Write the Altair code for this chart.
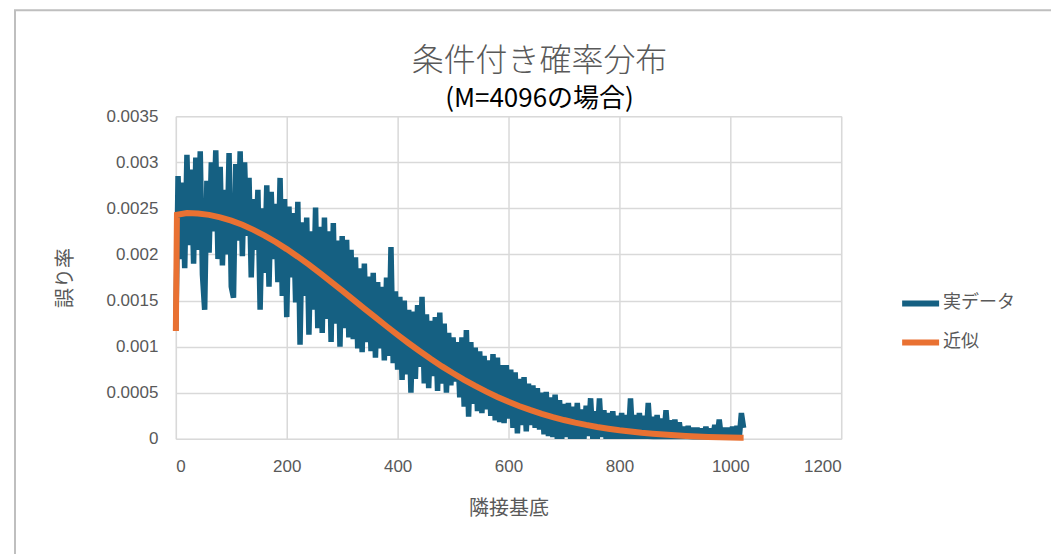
import altair as alt
import pandas as pd

# ---- data ----
series_names = ["実データ", "近似"]
series_colors = ["#156082", "#E97132"]

x_ticks = [0, 200, 400, 600, 800, 1000, 1200]
y_ticks = [0, 0.0005, 0.001, 0.0015, 0.002, 0.0025, 0.003, 0.0035]

# measured data (x = 0, 4, 8, ... 1024), values in units of 1e-4
blue_x = list(range(0, 1025, 4))
blue_vals = [
    11.7, 28.5, 19.5, 27.8, 18.5, 30.8, 21.0, 29.2, 19.0, 30.5,
    20.5, 31.2, 17.8, 14.0, 28.0, 20.2, 30.0, 22.5, 31.3, 19.5,
    29.5, 18.8, 27.0, 20.0, 31.0, 16.5, 15.3, 29.8, 21.5, 31.2,
    19.8, 30.0, 22.0, 28.3, 17.5, 26.0, 20.5, 27.0, 14.0, 25.0,
    18.0, 27.5, 16.5, 26.8, 19.5, 25.5, 17.0, 28.3, 15.5, 26.0,
    13.2, 25.2, 17.5, 24.5, 14.8, 25.7, 10.2, 23.5, 15.5, 24.0,
    11.3, 22.5, 14.0, 25.1, 12.0, 23.0, 11.5, 24.0, 13.0, 22.5,
    10.5, 23.4, 12.5, 21.5, 10.0, 22.0, 12.0, 21.6, 11.0, 20.5,
    10.8, 19.7, 9.8, 18.5, 9.4, 19.0, 10.5, 17.6, 9.5, 18.0,
    8.8, 17.0, 9.8, 16.5, 8.5, 17.5, 9.0, 20.8, 8.2, 16.0,
    7.5, 15.4, 6.4, 15.0, 7.0, 14.0, 5.0, 13.8, 6.5, 14.5,
    7.8, 15.4, 6.0, 13.5, 5.5, 12.8, 6.8, 13.2, 5.2, 13.7,
    6.0, 12.5, 5.0, 11.5, 5.8, 11.0, 6.2, 10.5, 4.5, 11.0,
    3.5, 11.8, 2.4, 10.5, 3.8, 9.9, 3.0, 9.5, 2.8, 9.0,
    3.2, 8.5, 2.5, 9.2, 2.0, 8.8, 1.8, 8.0, 1.7, 8.0,
    2.2, 7.5, 1.2, 7.2, 0.6, 6.5, 1.5, 6.7, 0.8, 6.0,
    1.5, 5.8, 1.2, 5.5, 1.0, 5.0, 0.5, 5.1, 0.3, 4.5,
    0.2, 4.8, 0.0, 4.2, 0.0, 3.8, 0.2, 3.9, 0.0, 3.5,
    0.0, 3.9, 0.0, 3.2, 0.0, 3.6, 0.3, 4.4, 0.0, 3.0,
    0.0, 4.4, 0.2, 3.1, 0.0, 2.8, 0.0, 3.0, 0.0, 2.5,
    0.0, 2.8, 0.0, 2.6, 0.0, 4.4, 0.0, 2.6, 0.0, 2.8,
    0.0, 2.5, 0.0, 3.9, 0.0, 2.4, 0.0, 2.6, 0.0, 2.2,
    0.0, 3.1, 0.0, 2.0, 0.0, 2.1, 0.0, 1.8, 0.0, 1.3,
    0.0, 1.4, 0.0, 1.2, 0.0, 1.2, 0.0, 1.1, 0.0, 1.3,
    0.0, 1.1, 0.0, 1.5, 0.0, 2.1, 0.0, 1.2, 0.0, 1.2,
    0.0, 1.3, 0.0, 1.4, 0.0, 2.8, 1.2,
]
blue_y = [v * 1e-4 for v in blue_vals]

# fitted curve
orange_x = [0, 2, 20, 40, 60, 80, 100, 120, 140, 160, 180, 200, 220, 240, 260,
            280, 300, 320, 340, 360, 380, 400, 420, 440, 460, 480, 500, 520,
            540, 560, 580, 600, 620, 640, 660, 680, 700, 720, 740, 760, 780,
            800, 820, 840, 860, 880, 900, 920, 940, 960, 980, 1000, 1020, 1024]
orange_y = [0.00117, 0.00243, 0.00245, 0.002445, 0.002429, 0.002403, 0.002367,
            0.002322, 0.002267, 0.002205, 0.002135, 0.002058, 0.001976,
            0.001889, 0.001797, 0.001703, 0.001608, 0.001510, 0.001413,
            0.001317, 0.001221, 0.001128, 0.001037, 0.000950, 0.000866,
            0.000786, 0.000711, 0.000640, 0.000574, 0.000512, 0.000455,
            0.000402, 0.000354, 0.000311, 0.000271, 0.000236, 0.000204,
            0.000176, 0.000151, 0.000129, 0.000110, 0.000093, 0.000079,
            0.000066, 0.000056, 0.000046, 0.000038, 0.000032, 0.000026,
            0.000021, 0.000017, 0.000014, 0.000011, 0.000011]

blue_df = pd.DataFrame({"x": blue_x, "y": blue_y, "系列": series_names[0]})
orange_df = pd.DataFrame({"x": orange_x, "y": orange_y, "系列": series_names[1]})

JP = "Noto Sans CJK JP"
GRAY = "#595959"

color = alt.Color(
    "系列:N",
    scale=alt.Scale(domain=series_names, range=series_colors),
    legend=alt.Legend(
        title=None, orient="none", legendX=724, legendY=166,
        symbolType="stroke", symbolSize=1369, symbolStrokeWidth=6,
        labelFont=JP, labelFontSize=18, labelColor=GRAY, labelOffset=1,
        rowPadding=5,
    ),
)

x_enc = alt.X(
    "x:Q",
    scale=alt.Scale(domain=[0, 1200], nice=False),
    axis=alt.Axis(values=x_ticks, format="d", title="隣接基底",
                  titleFont=JP, titleFontSize=20, titleColor=GRAY,
                  titleFontWeight="normal", titlePadding=24,
                  labelFont="Liberation Sans", labelFontSize=17,
                  labelColor=GRAY, labelPadding=20, domain=False, ticks=False,
                  grid=True, gridColor="#d9d9d9", gridWidth=1.5),
)
y_enc = alt.Y(
    "y:Q",
    scale=alt.Scale(domain=[0, 0.0035], nice=False),
    axis=alt.Axis(values=y_ticks, format="~g", title="誤り率",
                  titleFont=JP, titleFontSize=20, titleColor=GRAY,
                  titleFontWeight="normal", titlePadding=30,
                  labelFont="Liberation Sans", labelFontSize=17,
                  labelColor=GRAY, labelPadding=18, domain=False, ticks=False,
                  grid=True, gridColor="#d9d9d9", gridWidth=1.5),
)

blue = alt.Chart(blue_df).mark_line(strokeWidth=5.5, strokeJoin="bevel").encode(
    x=x_enc, y=y_enc, color=color)
orange = alt.Chart(orange_df).mark_line(strokeWidth=6).encode(
    x="x:Q", y="y:Q", color=alt.Color("系列:N"))

frame = alt.Chart(pd.DataFrame({"f": [0]})).mark_rect(
    filled=False, stroke="#bfbfbf", strokeWidth=2).encode(
    x=alt.value(-161), x2=alt.value(1000), y=alt.value(-106), y2=alt.value(600))

chart = alt.layer(frame, blue, orange).properties(
    width=666, height=323,
    title=alt.Title(
        text="条件付き確率分布", subtitle="(M=4096の場合)",
        anchor="middle", dx=31, offset=-104,
        font=JP, fontSize=32, fontWeight=300, color=GRAY,
        subtitleFont=JP, subtitleFontSize=26, subtitleColor="black",
        subtitleFontWeight=400, subtitlePadding=8,
    ),
    autosize=alt.AutoSizeParams(type="none"),
    padding={"left": 168, "top": 108, "right": 210, "bottom": 120},
).configure_view(stroke=None).configure(background="white")

chart.save("out.html", embed_options={"renderer": "svg", "actions": False})
